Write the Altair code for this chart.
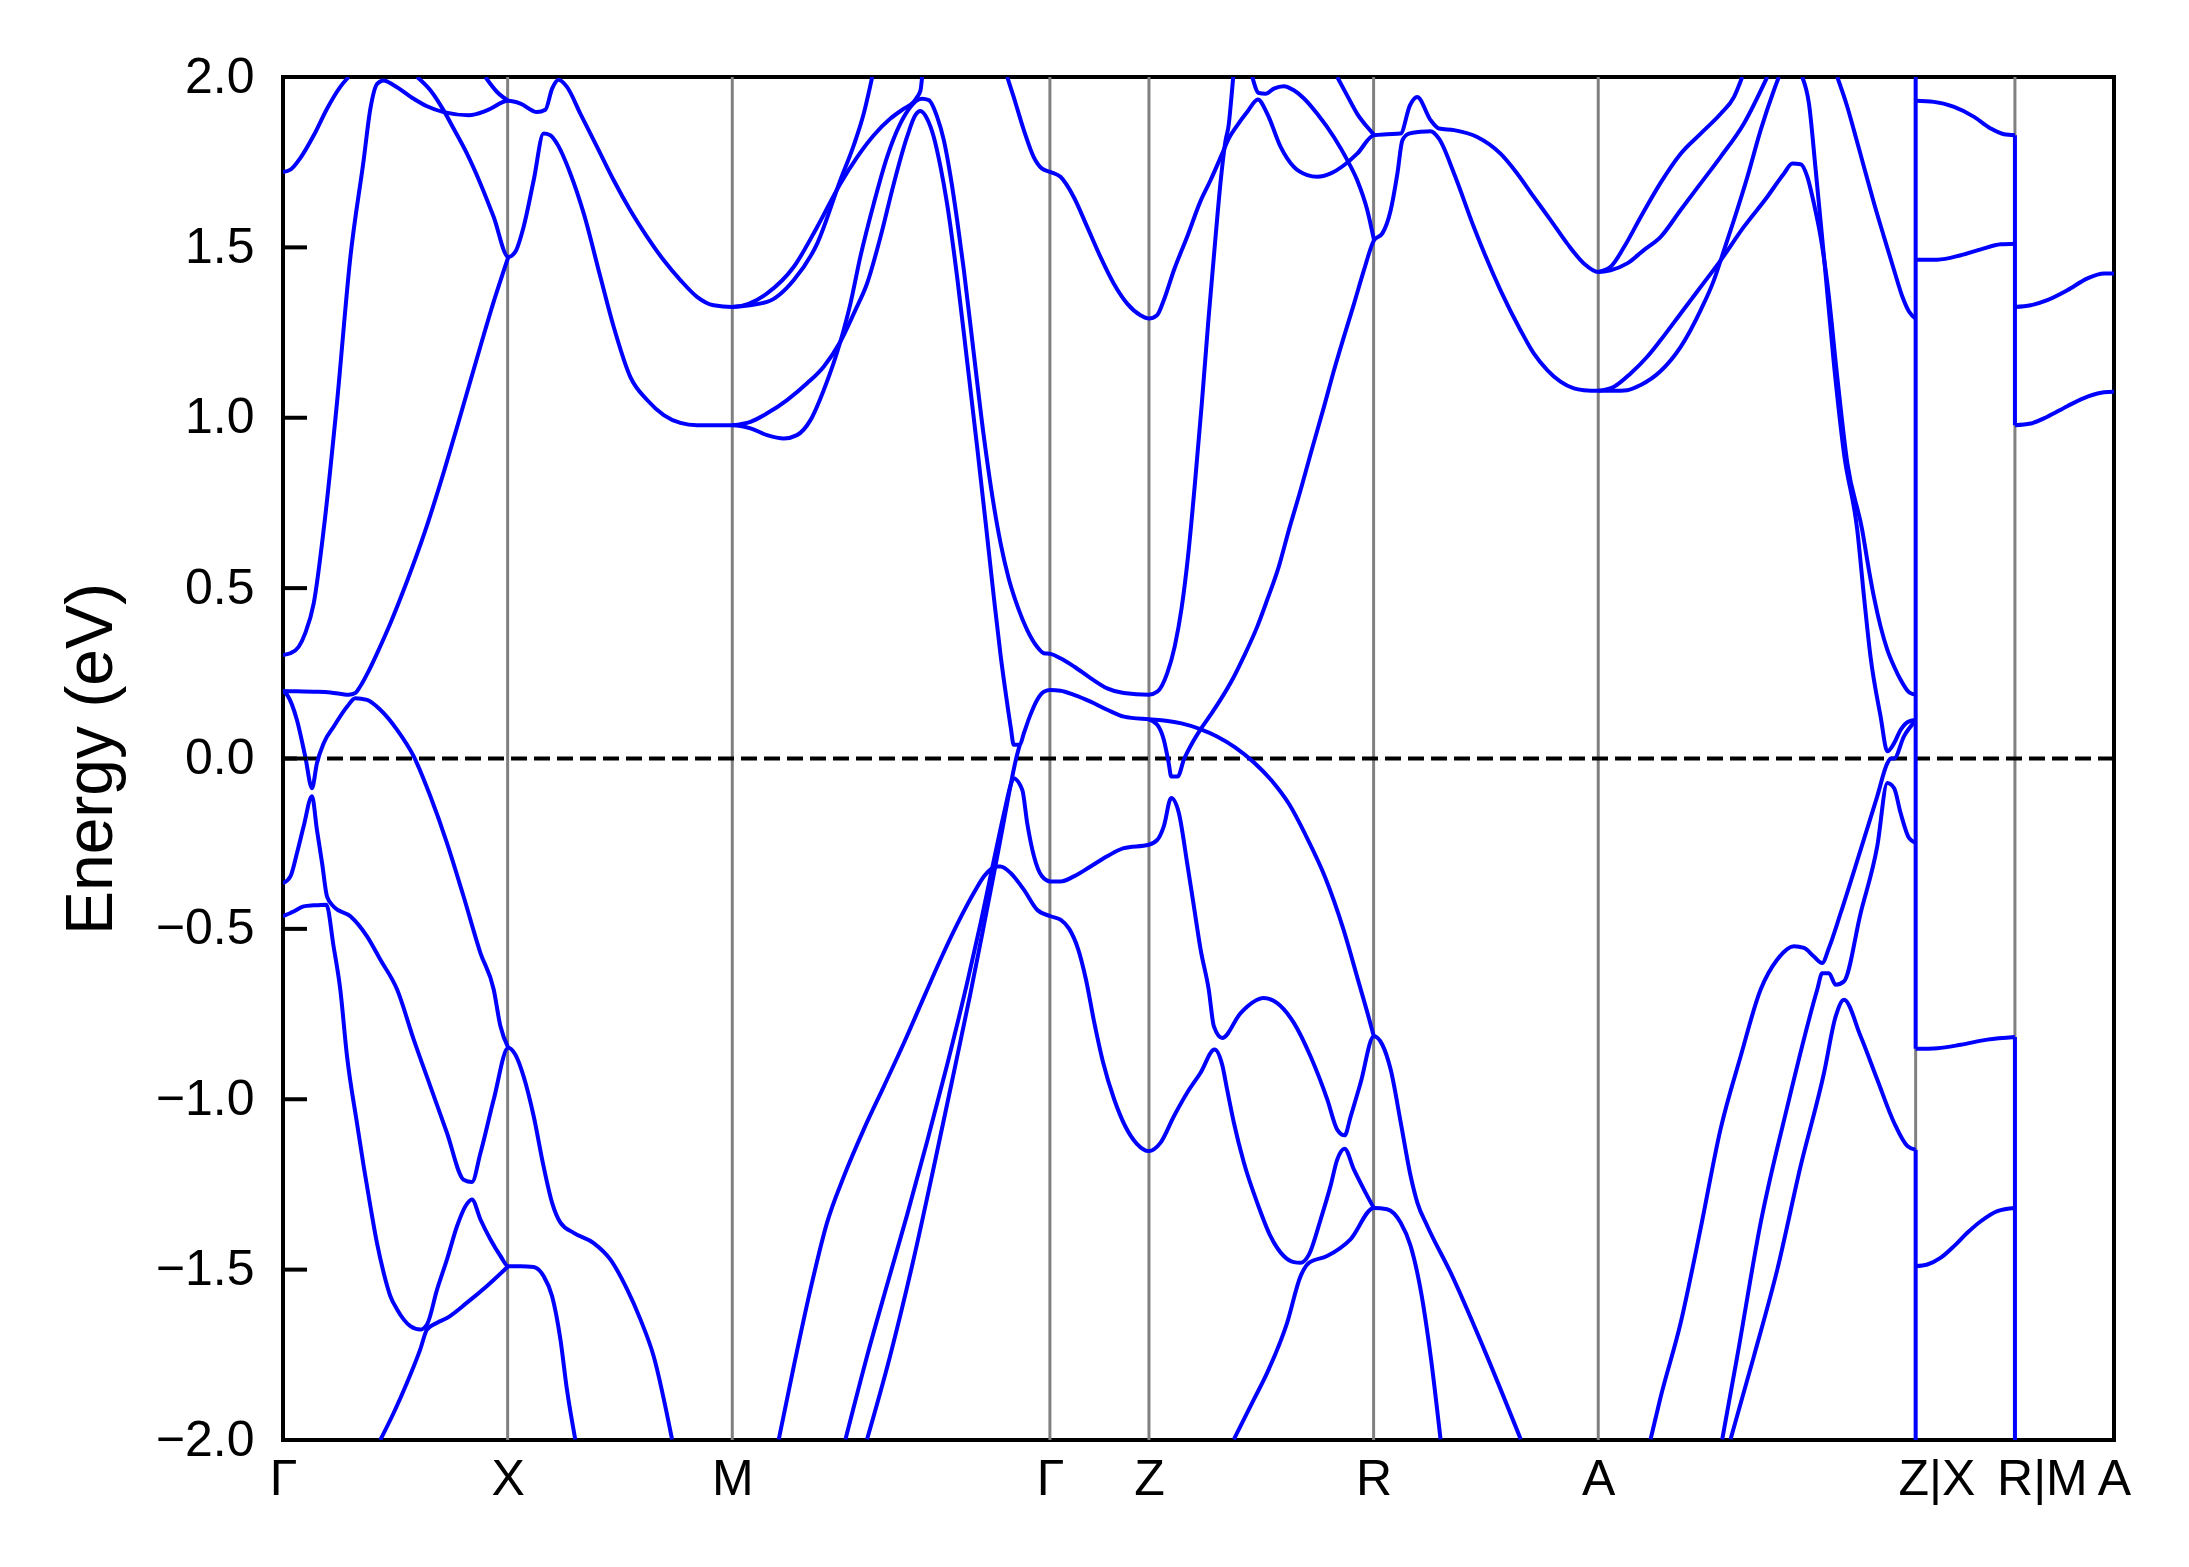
import altair as alt
import pandas as pd

# ---- axis positions / labels -------------------------------------------
K_TICKS = [0.0, 1.0, 2.0, 3.414, 3.855, 4.855, 5.855, 7.268, 7.710, 8.151]
K_LABELS = ["Γ", "X", "M", "Γ", "Z", "R", "A", "Z|X", "R|M", "A"]
LABEL_POS = [0.0, 1.0, 2.0, 3.414, 3.855, 4.855, 5.855, 7.360, 7.830, 8.151]
Y_TICKS = [-2.0, -1.5, -1.0, -0.5, 0.0, 0.5, 1.0, 1.5, 2.0]

# ---- band curves (k, E in eV) -------------------------------------------
BAND_01 = [(0, 1.721), (0.033, 1.728), (0.077, 1.762), (0.137, 1.829), (0.196, 1.907),
           (0.255, 1.971), (0.292, 2.0)]
BAND_02 = [(0, 0.304), (0.033, 0.309), (0.070, 0.328), (0.099, 0.368), (0.137, 0.456),
           (0.181, 0.671), (0.240, 1.042), (0.300, 1.472), (0.359, 1.756), (0.389, 1.907),
           (0.419, 1.980), (0.448, 1.990), (0.493, 1.976), (0.582, 1.936), (0.641, 1.914),
           (0.715, 1.897), (0.827, 1.888), (0.908, 1.902), (1.003, 1.930), (1.057, 1.922),
           (1.131, 1.897), (1.168, 1.904), (1.198, 1.966), (1.227, 1.992), (1.264, 1.971),
           (1.324, 1.892), (1.398, 1.795), (1.472, 1.697), (1.546, 1.609), (1.621, 1.531),
           (1.695, 1.462), (1.769, 1.404), (1.843, 1.355), (1.917, 1.330), (2.0, 1.325),
           (2.155, 1.365), (2.274, 1.443), (2.378, 1.560), (2.481, 1.687), (2.556, 1.765),
           (2.630, 1.829), (2.704, 1.878), (2.764, 1.907), (2.808, 1.927), (2.823, 1.941),
           (2.838, 1.961), (2.845, 2.0)]
BAND_03 = [(0.597, 2.0), (0.656, 1.961), (0.715, 1.902), (0.760, 1.848), (0.819, 1.775),
           (0.879, 1.687), (0.938, 1.589), (1.003, 1.472), (1.034, 1.487), (1.071, 1.560),
           (1.116, 1.697), (1.160, 1.834), (1.190, 1.829), (1.220, 1.804), (1.279, 1.717),
           (1.339, 1.599), (1.413, 1.413), (1.472, 1.267), (1.546, 1.120), (1.621, 1.052),
           (1.695, 1.008), (1.769, 0.985), (1.843, 0.978), (2.0, 0.978), (2.081, 0.969),
           (2.155, 0.949), (2.229, 0.939), (2.288, 0.949), (2.348, 0.993), (2.407, 1.081),
           (2.481, 1.223), (2.526, 1.335), (2.570, 1.472), (2.630, 1.629), (2.689, 1.765),
           (2.748, 1.863), (2.793, 1.912), (2.823, 1.932), (2.845, 1.936), (2.875, 1.932),
           (2.912, 1.883), (2.942, 1.814), (2.972, 1.707), (3.001, 1.580), (3.031, 1.433),
           (3.075, 1.189), (3.120, 0.944), (3.160, 0.760), (3.195, 0.630), (3.230, 0.530),
           (3.268, 0.450), (3.313, 0.377), (3.357, 0.328), (3.387, 0.309), (3.417, 0.307),
           (3.461, 0.294), (3.521, 0.270), (3.595, 0.236), (3.669, 0.206), (3.743, 0.192),
           (3.854, 0.187), (3.892, 0.196), (3.936, 0.250), (3.970, 0.330), (4.000, 0.440),
           (4.030, 0.600), (4.060, 0.810), (4.090, 1.040), (4.120, 1.290), (4.150, 1.520),
           (4.175, 1.700), (4.195, 1.810), (4.210, 1.860), (4.222, 1.940), (4.230, 2.0)]
BAND_04 = [(0, 0.198), (0.062, 0.197), (0.136, 0.196), (0.211, 0.194), (0.292, 0.187),
           (0.322, 0.192), (0.344, 0.212), (0.380, 0.255), (0.430, 0.325), (0.480, 0.400),
           (0.552, 0.520), (0.634, 0.670), (0.720, 0.850), (0.800, 1.030), (0.879, 1.210),
           (0.940, 1.345), (1.003, 1.472)]
BAND_05 = [(0, 0.198), (0.018, 0.187), (0.062, 0.113), (0.099, 0.006), (0.129, -0.087),
           (0.151, -0.014), (0.181, 0.045), (0.226, 0.094), (0.285, 0.152), (0.322, 0.177),
           (0.374, 0.172), (0.433, 0.143), (0.508, 0.084), (0.582, 0.006), (0.656, -0.111),
           (0.730, -0.248), (0.804, -0.405), (0.879, -0.571), (0.938, -0.678), (0.968, -0.786),
           (1.003, -0.849)]
BAND_06 = [(0, -0.366), (0.033, -0.346), (0.062, -0.278), (0.092, -0.199), (0.129, -0.111),
           (0.151, -0.209), (0.174, -0.307), (0.196, -0.405), (0.226, -0.435), (0.300, -0.463),
           (0.374, -0.522), (0.433, -0.590), (0.508, -0.678), (0.582, -0.825), (0.656, -0.962),
           (0.730, -1.099), (0.804, -1.236), (0.841, -1.243), (0.879, -1.158), (0.938, -1.001),
           (1.003, -0.849), (1.034, -0.869), (1.071, -0.933), (1.116, -1.050), (1.160, -1.197),
           (1.198, -1.304), (1.235, -1.362), (1.294, -1.392), (1.383, -1.422), (1.457, -1.470),
           (1.532, -1.558), (1.591, -1.646), (1.650, -1.754), (1.732, -1.998)]
BAND_07 = [(0, -0.463), (0.047, -0.449), (0.092, -0.434), (0.136, -0.431), (0.193, -0.429),
           (0.225, -0.551), (0.255, -0.678), (0.285, -0.874), (0.329, -1.069), (0.359, -1.196),
           (0.389, -1.314), (0.418, -1.421), (0.448, -1.509), (0.478, -1.578), (0.508, -1.617),
           (0.537, -1.646), (0.567, -1.666), (0.611, -1.676), (0.641, -1.661), (0.686, -1.558),
           (0.730, -1.470), (0.775, -1.372), (0.812, -1.314), (0.841, -1.294), (0.879, -1.353),
           (0.923, -1.411), (0.968, -1.460), (1.003, -1.490), (1.057, -1.490), (1.116, -1.492),
           (1.160, -1.519), (1.198, -1.578), (1.235, -1.705), (1.264, -1.852), (1.301, -1.998)]
BAND_08 = [(0.433, -2.0), (0.493, -1.920), (0.552, -1.832), (0.611, -1.734), (0.641, -1.676),
           (0.686, -1.656), (0.730, -1.642), (0.819, -1.597), (0.908, -1.548), (1.003, -1.490)]
BAND_09 = [(0.901, 2.0), (0.953, 1.956), (1.003, 1.930)]
BAND_10 = [(2.0, 1.325), (2.155, 1.340), (2.274, 1.404), (2.378, 1.511), (2.481, 1.697),
           (2.541, 1.800), (2.585, 1.892), (2.623, 2.0)]
BAND_11 = [(2.0, 0.978), (2.081, 0.988), (2.155, 1.013), (2.244, 1.052), (2.333, 1.101),
           (2.407, 1.150), (2.481, 1.223), (2.548, 1.316), (2.600, 1.394), (2.660, 1.531),
           (2.719, 1.687), (2.778, 1.824), (2.815, 1.888), (2.837, 1.900), (2.867, 1.878),
           (2.897, 1.824), (2.927, 1.736), (2.956, 1.629), (3.001, 1.413), (3.045, 1.169),
           (3.090, 0.915), (3.130, 0.680), (3.165, 0.470), (3.195, 0.300), (3.222, 0.170),
           (3.240, 0.090), (3.253, 0.040), (3.280, 0.040),
           (3.298, 0.074), (3.327, 0.128), (3.357, 0.172), (3.387, 0.196), (3.417, 0.201),
           (3.461, 0.199), (3.521, 0.187), (3.595, 0.167), (3.669, 0.143), (3.743, 0.123),
           (3.854, 0.115), (3.930, 0.111), (4.000, 0.103), (4.080, 0.087), (4.160, 0.064),
           (4.240, 0.032), (4.320, -0.010), (4.400, -0.064), (4.480, -0.135), (4.560, -0.235),
           (4.640, -0.350), (4.720, -0.500), (4.790, -0.660), (4.827, -0.745), (4.856, -0.815)]
BAND_12 = [(3.224, 2.0), (3.253, 1.941), (3.298, 1.844), (3.342, 1.765), (3.379, 1.731),
           (3.417, 1.721), (3.461, 1.707), (3.520, 1.648), (3.580, 1.560), (3.639, 1.472),
           (3.698, 1.394), (3.758, 1.335), (3.817, 1.301), (3.854, 1.291), (3.891, 1.301),
           (3.921, 1.345), (3.966, 1.433), (4.025, 1.531), (4.084, 1.635), (4.129, 1.697),
           (4.181, 1.775), (4.210, 1.819), (4.248, 1.858), (4.292, 1.897), (4.340, 1.934),
           (4.381, 1.893), (4.441, 1.795), (4.500, 1.736), (4.560, 1.712), (4.604, 1.707),
           (4.664, 1.717), (4.723, 1.741), (4.782, 1.775), (4.856, 1.829), (4.915, 1.832),
           (4.975, 1.834), (5.017, 1.917), (5.049, 1.941), (5.109, 1.873), (5.146, 1.849),
           (5.213, 1.844), (5.316, 1.824), (5.420, 1.775), (5.494, 1.717), (5.568, 1.648),
           (5.643, 1.580), (5.717, 1.511), (5.791, 1.453), (5.855, 1.428), (5.910, 1.433),
           (5.984, 1.453), (6.058, 1.492), (6.133, 1.531), (6.221, 1.609), (6.310, 1.687),
           (6.399, 1.765), (6.503, 1.863), (6.607, 2.0)]
BAND_13 = [(5.855, 1.428), (5.910, 1.443), (5.970, 1.501), (6.044, 1.589), (6.133, 1.690),
           (6.222, 1.775), (6.311, 1.834), (6.400, 1.892), (6.459, 1.941), (6.496, 2.0)]
BAND_14 = [(2.504, -1.998), (2.600, -1.754), (2.689, -1.545), (2.778, -1.340), (2.867, -1.125),
           (2.956, -0.900), (3.045, -0.660), (3.105, -0.485), (3.164, -0.300), (3.210, -0.160),
           (3.242, -0.072), (3.251, -0.058),
           (3.291, -0.092), (3.313, -0.190), (3.343, -0.287), (3.379, -0.346), (3.417, -0.361),
           (3.461, -0.361), (3.521, -0.346), (3.595, -0.317), (3.669, -0.287), (3.743, -0.263),
           (3.854, -0.253), (3.892, -0.239), (3.921, -0.199), (3.954, -0.116), (3.988, -0.160),
           (4.025, -0.307), (4.055, -0.434), (4.085, -0.561), (4.121, -0.678), (4.144, -0.786),
           (4.181, -0.820), (4.263, -0.747), (4.366, -0.703), (4.426, -0.718), (4.500, -0.776),
           (4.574, -0.874), (4.649, -1.001), (4.693, -1.089), (4.726, -1.106), (4.753, -1.050),
           (4.797, -0.952), (4.856, -0.815), (4.894, -0.840), (4.931, -0.913), (4.976, -1.069),
           (5.020, -1.226), (5.050, -1.304), (5.094, -1.372), (5.198, -1.509), (5.347, -1.734),
           (5.510, -1.998)]
BAND_15 = [(2.600, -1.998), (2.700, -1.760), (2.800, -1.490), (2.900, -1.190), (2.990, -0.910),
           (3.060, -0.690), (3.120, -0.490), (3.170, -0.320), (3.210, -0.180), (3.240, -0.075),
           (3.262, -0.005), (3.280, 0.040)]
BAND_16 = [(2.207, -1.998), (2.274, -1.783), (2.348, -1.558), (2.422, -1.362), (2.497, -1.226),
           (2.585, -1.089), (2.675, -0.962), (2.764, -0.835), (2.860, -0.690), (2.927, -0.590),
           (3.001, -0.487), (3.075, -0.395), (3.120, -0.346), (3.149, -0.326), (3.172, -0.317),
           (3.194, -0.317), (3.239, -0.336), (3.298, -0.385), (3.357, -0.444), (3.417, -0.463),
           (3.461, -0.473), (3.500, -0.500), (3.540, -0.560), (3.575, -0.650), (3.610, -0.770),
           (3.650, -0.890), (3.700, -1.000), (3.750, -1.080), (3.800, -1.130), (3.854, -1.152),
           (3.906, -1.128),
           (3.966, -1.050), (4.025, -0.981), (4.084, -0.923), (4.147, -0.854), (4.181, -0.899),
           (4.203, -0.972), (4.233, -1.069), (4.278, -1.187), (4.337, -1.304), (4.396, -1.402),
           (4.455, -1.460), (4.500, -1.478), (4.530, -1.480), (4.567, -1.456), (4.619, -1.353),
           (4.663, -1.255), (4.693, -1.177), (4.726, -1.145), (4.767, -1.206), (4.812, -1.265),
           (4.856, -1.319)]
BAND_17 = [(4.233, -1.998), (4.322, -1.881), (4.381, -1.803), (4.470, -1.656), (4.530, -1.519),
           (4.567, -1.480), (4.648, -1.460), (4.752, -1.411), (4.856, -1.319), (4.915, -1.323),
           (4.975, -1.362), (5.020, -1.431), (5.064, -1.558), (5.109, -1.754), (5.153, -1.998)]
BAND_18 = [(3.854, 0.115), (3.892, 0.099), (3.921, 0.055), (3.943, -0.014), (3.954, -0.053),
           (3.983, -0.053), (4.010, -0.004), (4.047, 0.045), (4.085, 0.086), (4.129, 0.128),
           (4.173, 0.172), (4.233, 0.240), (4.277, 0.299), (4.337, 0.387), (4.381, 0.465),
           (4.433, 0.563), (4.478, 0.671), (4.530, 0.788), (4.575, 0.895), (4.634, 1.032),
           (4.679, 1.140), (4.723, 1.238), (4.768, 1.335), (4.812, 1.433), (4.857, 1.521),
           (4.894, 1.541), (4.931, 1.609), (4.961, 1.717), (4.983, 1.814), (5.012, 1.834),
           (5.064, 1.839), (5.109, 1.841), (5.146, 1.819), (5.213, 1.717), (5.301, 1.560),
           (5.420, 1.374), (5.509, 1.257), (5.568, 1.189), (5.628, 1.140), (5.687, 1.106),
           (5.747, 1.086), (5.791, 1.081), (5.855, 1.079), (5.925, 1.079), (5.984, 1.081),
           (6.044, 1.096), (6.133, 1.137), (6.222, 1.208), (6.311, 1.316), (6.370, 1.404),
           (6.400, 1.462), (6.459, 1.580), (6.519, 1.707), (6.578, 1.844), (6.637, 1.961),
           (6.659, 2.0)]
BAND_19 = [(5.855, 1.079), (5.925, 1.091), (5.999, 1.130), (6.073, 1.179), (6.133, 1.228),
           (6.222, 1.306), (6.311, 1.384), (6.400, 1.462), (6.503, 1.560), (6.607, 1.648),
           (6.682, 1.717), (6.719, 1.746), (6.756, 1.744), (6.786, 1.707), (6.815, 1.629),
           (6.845, 1.531), (6.875, 1.394), (6.919, 1.120), (6.964, 0.866), (7.030, 0.671),
           (7.060, 0.553), (7.082, 0.475), (7.112, 0.387), (7.142, 0.319), (7.172, 0.270),
           (7.201, 0.231), (7.239, 0.194), (7.268, 0.187)]
BAND_20 = [(6.763, 2.0), (6.793, 1.922), (6.823, 1.727), (6.860, 1.472), (6.904, 1.159),
           (6.949, 0.895), (7.008, 0.671), (7.038, 0.475), (7.067, 0.299), (7.112, 0.123),
           (7.142, 0.021), (7.172, 0.045), (7.201, 0.084), (7.239, 0.109), (7.268, 0.113)]
BAND_21 = [(6.919, 2.0), (6.964, 1.912), (6.993, 1.844), (7.038, 1.736), (7.083, 1.629),
           (7.127, 1.531), (7.172, 1.433), (7.209, 1.355), (7.239, 1.311), (7.268, 1.291)]
BAND_22 = [(6.088, -1.998), (6.132, -1.876), (6.222, -1.656), (6.310, -1.382), (6.399, -1.089),
           (6.489, -0.874), (6.578, -0.678), (6.652, -0.590), (6.726, -0.551), (6.771, -0.556),
           (6.815, -0.581), (6.852, -0.600), (6.882, -0.556), (6.934, -0.454), (7.023, -0.268),
           (7.097, -0.111), (7.142, -0.014), (7.157, 0.0), (7.172, 0.0), (7.216, 0.065),
           (7.268, 0.111)]
BAND_23 = [(6.407, -1.998), (6.474, -1.754), (6.578, -1.363), (6.697, -1.021), (6.830, -0.678),
           (6.852, -0.630), (6.882, -0.630), (6.912, -0.664), (6.949, -0.654), (7.023, -0.454),
           (7.097, -0.258), (7.142, -0.072), (7.172, -0.087), (7.201, -0.160), (7.239, -0.234),
           (7.268, -0.248)]
BAND_24 = [(6.444, -1.998), (6.548, -1.754), (6.652, -1.500), (6.756, -1.196), (6.860, -0.923),
           (6.912, -0.757), (6.949, -0.708), (7.023, -0.815), (7.097, -0.942), (7.172, -1.069),
           (7.231, -1.137), (7.268, -1.148)]
BAND_25 = [(4.315, 2.0), (4.344, 1.953), (4.374, 1.951), (4.411, 1.966), (4.455, 1.973),
           (4.500, 1.961), (4.545, 1.937), (4.604, 1.892), (4.678, 1.824), (4.738, 1.756),
           (4.782, 1.697), (4.827, 1.609), (4.857, 1.521)]
BAND_26 = [(4.693, 2.0), (4.737, 1.946), (4.782, 1.892), (4.827, 1.853), (4.856, 1.831)]
BAND_27 = [(7.268, 1.930), (7.349, 1.927), (7.439, 1.912), (7.528, 1.883), (7.602, 1.849),
           (7.661, 1.832), (7.710, 1.829)]
BAND_28 = [(7.268, 1.464), (7.365, 1.464), (7.469, 1.477), (7.558, 1.494), (7.647, 1.509),
           (7.710, 1.511)]
BAND_29 = [(7.268, -0.852), (7.365, -0.850), (7.469, -0.840), (7.587, -0.825), (7.710, -0.817)]
BAND_30 = [(7.268, -1.490), (7.320, -1.485), (7.380, -1.465), (7.439, -1.431), (7.498, -1.392),
           (7.558, -1.358), (7.632, -1.328), (7.710, -1.319)]
BAND_31 = [(7.710, 1.325), (7.780, 1.330), (7.854, 1.345), (7.943, 1.374), (8.033, 1.409),
           (8.107, 1.423), (8.151, 1.423)]
BAND_32 = [(7.710, 0.978), (7.780, 0.983), (7.854, 1.003), (7.943, 1.034), (8.033, 1.062),
           (8.107, 1.075), (8.151, 1.076)]

# vertical connections drawn at the path discontinuities: (k, E_from, E_to)
JUMPS = [(7.268, 2.0, -0.852), (7.268, -1.148, -2.0), (7.710, 1.829, 0.978), (7.710, -0.817, -2.0)]

BANDS = [BAND_01, BAND_02, BAND_03, BAND_04, BAND_05, BAND_06, BAND_07, BAND_08, BAND_09,
         BAND_10, BAND_11, BAND_12, BAND_13, BAND_14, BAND_15, BAND_16, BAND_17, BAND_18,
         BAND_19, BAND_20, BAND_21, BAND_22, BAND_23, BAND_24, BAND_25, BAND_26, BAND_27,
         BAND_28, BAND_29, BAND_30, BAND_31, BAND_32]

rows = []
for bi, band in enumerate(BANDS):
    for i, (k, e) in enumerate(band):
        rows.append({"band": f"b{bi:02d}", "i": i, "k": k, "E": e})
band_df = pd.DataFrame(rows)
jump_df = pd.DataFrame(JUMPS, columns=["k", "E", "E2"])
vline_df = pd.DataFrame({"k": K_TICKS[1:-1]})
zero_df = pd.DataFrame({"E": [0.0]})
ytick_df = pd.DataFrame({"E": Y_TICKS[1:-1]})

W, H = 1831, 1363
FONT = "Liberation Sans"
xscale = alt.Scale(domain=[K_TICKS[0], K_TICKS[-1]], nice=False, zero=False)
yscale = alt.Scale(domain=[-2, 2], nice=False, zero=False)

label_expr = "''"
for pos, lab in reversed(list(zip(LABEL_POS, K_LABELS))):
    label_expr = f"abs(datum.value - {pos}) < 0.005 ? '{lab}' : ({label_expr})"

x_axis = alt.Axis(values=LABEL_POS, labelExpr=label_expr, ticks=False, grid=False, domain=False,
                  labelFontSize=50, labelFont=FONT, labelColor="black", labelPadding=14,
                  labelBaseline="top", labelFlush=False, labelOverlap=False, title=None)
y_axis = alt.Axis(values=Y_TICKS, format=".1f", ticks=False, grid=False, domain=False,
                  labelFontSize=50, labelFont=FONT, labelColor="black", labelPadding=29,
                  title="Energy (eV)", titleFontSize=66, titleFont=FONT, titleFontWeight="normal",
                  titleColor="black", titleX=-192, titleY=H / 2, titleAngle=270,
                  titleBaseline="middle", titleAlign="center")

X = alt.X("k:Q", scale=xscale, axis=x_axis)
Y = alt.Y("E:Q", scale=yscale, axis=y_axis)

vlines = alt.Chart(vline_df).mark_rule(color="#808080", strokeWidth=3).encode(x=X)
zero = alt.Chart(zero_df).mark_rule(color="black", strokeWidth=4, strokeDash=[16, 7]).encode(y=Y)
bands = alt.Chart(band_df).mark_line(color="#0000ff", strokeWidth=4, interpolate="monotone",
                                     clip=True).encode(x=X, y=Y, detail="band:N", order="i:Q")
jumps = alt.Chart(jump_df).mark_rule(color="#0000ff", strokeWidth=4).encode(x=X, y=Y, y2="E2:Q")
yticks = alt.Chart(ytick_df).mark_rule(color="black", strokeWidth=4).encode(
    y=Y, x=alt.value(0), x2=alt.value(24))

chart = alt.layer(vlines, zero, bands, jumps, yticks).properties(
    width=W, height=H,
    autosize=alt.AutoSizeParams(type="none"),
    padding={"left": 275, "top": 69, "right": 60, "bottom": 110},
    background="white",
).configure_view(stroke="black", strokeWidth=4)

chart.save("out.html", embed_options={"renderer": "svg", "actions": False})
